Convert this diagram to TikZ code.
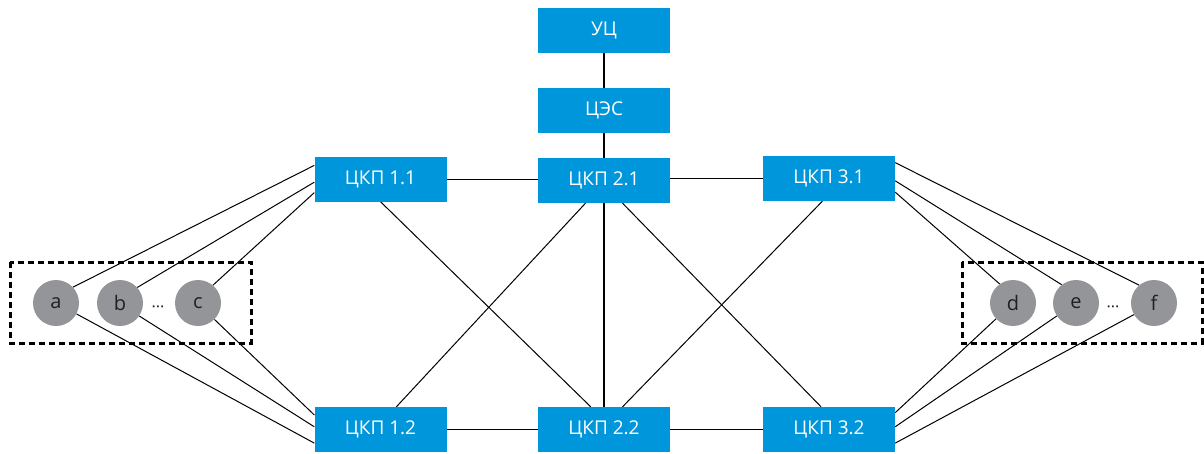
\documentclass[tikz,border=0pt]{standalone}
\usepackage{fontspec}
\setmainfont{Open Sans}
\usetikzlibrary{calc,backgrounds}
\definecolor{boxblue}{HTML}{0096DB}
\definecolor{nodegray}{HTML}{939598}
\definecolor{ink}{HTML}{231F20}
\tikzset{
  unit/.style={fill=boxblue, draw=none, text=white, minimum width=132pt, minimum height=45pt,
    inner sep=0pt, font=\fontsize{19}{21}\selectfont},
  client/.style={circle, fill=nodegray, draw=none, text=ink, minimum size=46pt, inner sep=0pt,
    font=\fontsize{20}{22}\selectfont},
  link/.style={draw=black, line width=1pt},
  trunk/.style={draw=black, line width=2.6pt},
  group/.style={draw=black, line width=3pt, dash pattern=on 6pt off 4pt},
  gap/.style={text=ink, font=\fontsize{16}{18}\selectfont, inner sep=0pt, anchor=base}
}
\begin{document}
\begin{tikzpicture}[x=1pt,y=-1pt]
\useasboundingbox (0,0) rectangle (1204,453);

% switching units
\node[unit] (uc)  at (604,30.5)  {УЦ};
\node[unit] (ces) at (604,110.5) {ЦЭС};
\node[unit] (k21) at (604,180.5) {ЦКП 2.1};
\node[unit] (k11) at (380.5,179) {ЦКП 1.1};
\node[unit] (k31) at (829,178.5) {ЦКП 3.1};
\node[unit] (k12) at (380.5,429.5) {ЦКП 1.2};
\node[unit] (k22) at (604,429.5) {ЦКП 2.2};
\node[unit] (k32) at (829,429.5) {ЦКП 3.2};

% subscriber groups
\node[client] (a) at (56,303)   {a};
\node[client] (b) at (120,303)  {b};
\node[client] (c) at (198,303)  {c};
\node[gap] (dl) at (158,312) {···};
\node[client] (d) at (1013,303) {d};
\node[client] (e) at (1076,303) {e};
\node[client] (f) at (1154,303) {f};
\node[gap] (dr) at (1113,312) {···};

% attachment points on the unit edges
\coordinate (k11w1) at ($(k11.north west)!0.2!(k11.south west)$);
\coordinate (k11w2) at ($(k11.north west)!0.57!(k11.south west)$);
\coordinate (k11w3) at ($(k11.north west)!0.8!(k11.south west)$);
\coordinate (k12w1) at ($(k12.north west)!0.18!(k12.south west)$);
\coordinate (k12w2) at ($(k12.north west)!0.44!(k12.south west)$);
\coordinate (k12w3) at ($(k12.north west)!0.8!(k12.south west)$);
\coordinate (k31e1) at ($(k31.north east)!0.15!(k31.south east)$);
\coordinate (k31e2) at ($(k31.north east)!0.55!(k31.south east)$);
\coordinate (k31e3) at ($(k31.north east)!0.8!(k31.south east)$);
\coordinate (k32e1) at ($(k32.north east)!0.13!(k32.south east)$);
\coordinate (k32e2) at ($(k32.north east)!0.44!(k32.south east)$);
\coordinate (k32e3) at ($(k32.north east)!0.8!(k32.south east)$);
\coordinate (k21s1) at ($(k21.south west)!0.36!(k21.south east)$);
\coordinate (k21s2) at ($(k21.south west)!0.64!(k21.south east)$);
\coordinate (k31s)  at ($(k31.south west)!0.45!(k31.south east)$);
\coordinate (k22n1) at ($(k22.north west)!0.40!(k22.north east)$);
\coordinate (k22n2) at ($(k22.north west)!0.64!(k22.north east)$);
\coordinate (k12n)  at ($(k12.north west)!0.62!(k12.north east)$);
\coordinate (k32n)  at ($(k32.north west)!0.44!(k32.north east)$);

\begin{scope}[on background layer]
  % backbone
  \draw[trunk] (uc) -- (ces);
  \draw[trunk] (ces) -- (k21);
  \draw[trunk] (k21) -- (k22);
  % ring links
  \draw[link] (k11.east) -- (k11.east -| k21.west);
  \draw[link] (k21.east |- k31.west) -- (k31.west);
  \draw[link] (k12) -- (k22);
  \draw[link] (k22) -- (k32);
  % cross links
  \draw[link] (k11.south) -- (k22n1);
  \draw[link] (k21s1) -- (k12n);
  \draw[link] (k21s2) -- (k32n);
  \draw[link] (k31s) -- (k22n2);
  % subscriber links, left
  \draw[link] (k11w1) -- (a.43);
  \draw[link] (k11w2) -- (b.42);
  \draw[link] (k11w3) -- (c.50);
  \draw[link] (k12w1) -- (c.-45);
  \draw[link] (k12w2) -- (b.-34);
  \draw[link] (k12w3) -- (a.-28);
  % subscriber links, right
  \draw[link] (k31e1) -- (f.130);
  \draw[link] (k31e2) -- (e.128);
  \draw[link] (k31e3) -- (d.125);
  \draw[link] (k32e1) -- (d.223);
  \draw[link] (k32e2) -- (e.214);
  \draw[link] (k32e3) -- (f.210);
\end{scope}

% group frames
\draw[group] (10,262) rectangle (251,343);
\draw[group] (962,262) rectangle (1202,343);
\end{tikzpicture}
\end{document}
